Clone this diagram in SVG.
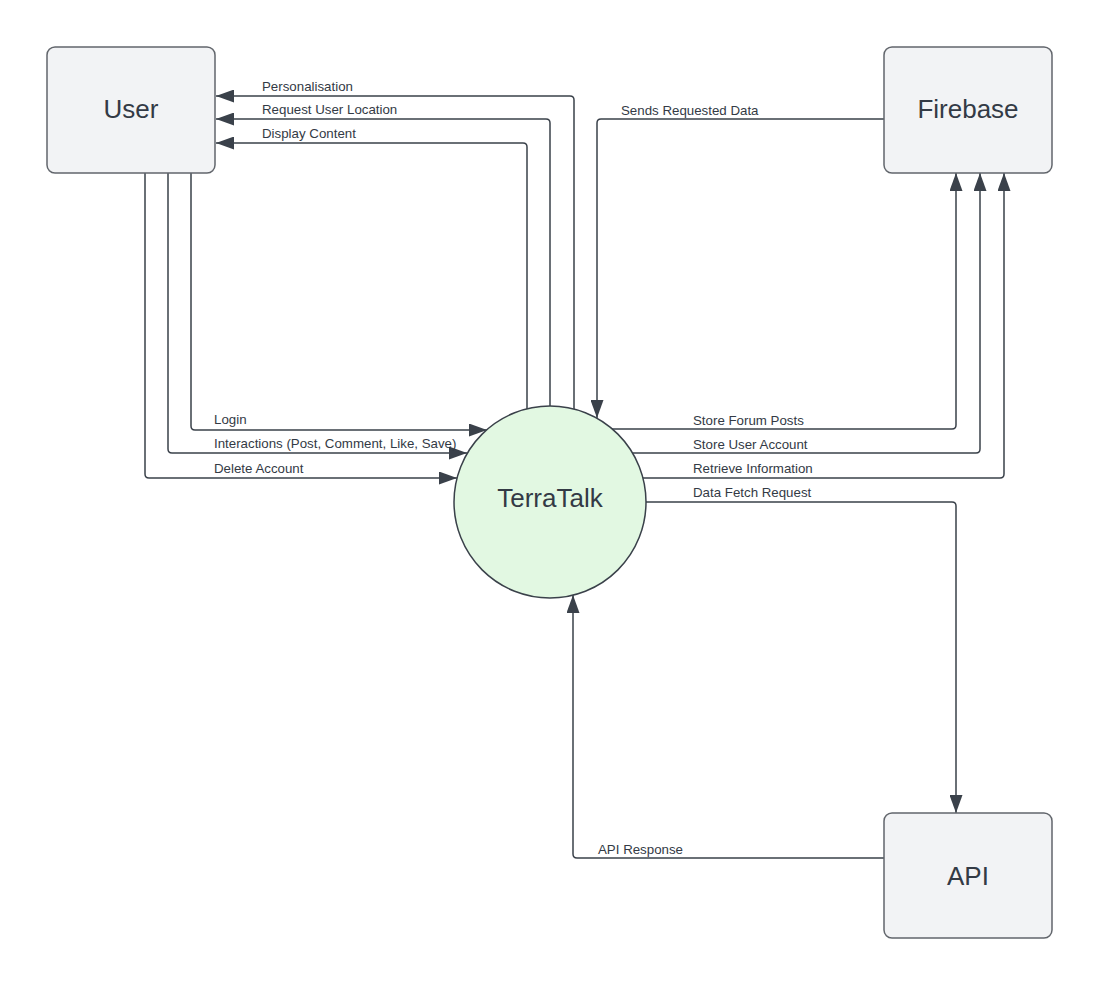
<svg xmlns="http://www.w3.org/2000/svg" width="1100" height="987" viewBox="0 0 1100 987">
<style>
.box{fill:#f2f3f5;stroke:#62666c;stroke-width:1.5}
.circ{fill:#e2f8e2;stroke:#3a414a;stroke-width:1.5}
.ntxt{font-family:"Liberation Sans",Arial,sans-serif;font-size:26px;fill:#333a45;text-anchor:middle;dominant-baseline:central}
.lbl{font-family:"Liberation Sans",Arial,sans-serif;font-size:13.3px;fill:#333a45}
.con{fill:none;stroke:#3a414a;stroke-width:1.5}
</style>
<defs>
<marker id="arr" markerUnits="userSpaceOnUse" markerWidth="19" markerHeight="13" refX="18" refY="6.5" orient="auto">
<path d="M0,0 L18,6.5 L0,13 z" fill="#3a414a"/>
</marker>
</defs>
<rect width="1100" height="987" fill="#ffffff"/>
<g id="connectors">
<path class="con" marker-end="url(#arr)" d="M574,409 V100 Q574,96 570,96 H216"/>
<path class="con" marker-end="url(#arr)" d="M550,406 V123 Q550,119 546,119 H216"/>
<path class="con" marker-end="url(#arr)" d="M527,409 V147 Q527,143 523,143 H216"/>
<path class="con" marker-end="url(#arr)" d="M191,173 V426 Q191,430 195,430 H487"/>
<path class="con" marker-end="url(#arr)" d="M168,173 V449 Q168,453 172,453 H467"/>
<path class="con" marker-end="url(#arr)" d="M145,173 V474 Q145,478 149,478 H457"/>
<path class="con" marker-end="url(#arr)" d="M884,119 H601 Q597,119 597,123 V418"/>
<path class="con" marker-end="url(#arr)" d="M612,429 H952 Q956,429 956,425 V173"/>
<path class="con" marker-end="url(#arr)" d="M632,453 H976 Q980,453 980,449 V173"/>
<path class="con" marker-end="url(#arr)" d="M643,478 H1000 Q1004,478 1004,474 V173"/>
<path class="con" marker-end="url(#arr)" d="M646,502 H952 Q956,502 956,506 V813"/>
<path class="con" marker-end="url(#arr)" d="M884,858 H577 Q573,858 573,854 V595"/>
<text class="lbl" x="262" y="91">Personalisation</text>
<text class="lbl" x="262" y="114">Request User Location</text>
<text class="lbl" x="262" y="138">Display Content</text>
<text class="lbl" x="214" y="424">Login</text>
<text class="lbl" x="214" y="448">Interactions (Post, Comment, Like, Save)</text>
<text class="lbl" x="214" y="473">Delete Account</text>
<text class="lbl" x="621" y="115">Sends Requested Data</text>
<text class="lbl" x="693" y="425">Store Forum Posts</text>
<text class="lbl" x="693" y="449">Store User Account</text>
<text class="lbl" x="693" y="473">Retrieve Information</text>
<text class="lbl" x="693" y="497">Data Fetch Request</text>
<text class="lbl" x="598" y="854">API Response</text>
</g>
<g id="user">
<rect class="box" x="47" y="47" width="168" height="126" rx="8"/>
<text class="ntxt" x="131" y="109">User</text>
</g>
<g id="firebase">
<rect class="box" x="884" y="47" width="168" height="126" rx="8"/>
<text class="ntxt" x="968" y="109">Firebase</text>
</g>
<g id="api">
<rect class="box" x="884" y="813" width="168" height="125" rx="8"/>
<text class="ntxt" x="968" y="876">API</text>
</g>
<g id="terratalk">
<circle class="circ" cx="550" cy="502" r="96"/>
<text class="ntxt" x="550" y="498">TerraTalk</text>
</g>
</svg>
